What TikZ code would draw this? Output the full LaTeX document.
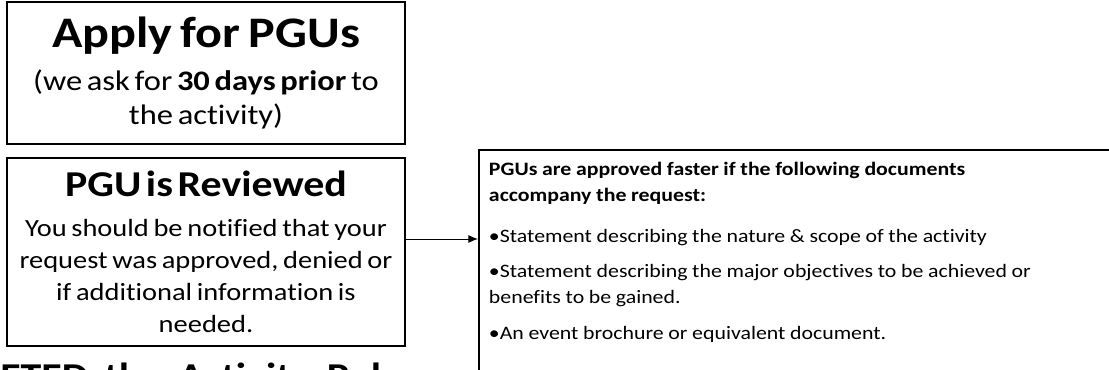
\documentclass[tikz,border=0pt]{standalone}
\usepackage{fontspec}
\setmainfont{Carlito}[Ligatures={NoCommon}, FakeStretch=1.15, WordSpace=1.7]
\usetikzlibrary{arrows.meta, positioning}

\begin{document}
\begin{tikzpicture}[
	stepbox/.style={rectangle, draw=black, line width=1.4pt, align=center,
	                text width=9.6cm, minimum width=9.95cm, inner sep=0pt},
	docbox/.style={rectangle, draw=black, line width=1.4pt, align=left, anchor=north west,
	               text width=15.45cm, inner xsep=0.25cm, inner ysep=0.3cm},
	arr/.style={-{Latex[length=2.4mm, width=2mm]}, line width=0.7pt}
	]
\useasboundingbox (0,0) rectangle (27.725,-9.25);
\clip (0,0) rectangle (27.725,-9.25);

\node[stepbox, minimum height=3.55cm] (apply) at (5.15,-1.825)
	{{\fontsize{31}{36}\selectfont\bfseries\spaceskip=0.19em\relax Apply for PGUs\par}\vspace{7pt}
	 {\fontsize{20.1}{24.2}\selectfont (we ask for \textbf{30 days prior} to\\ the activity)\par}};

\node[stepbox, minimum height=4.7cm] (review) at (5.15,-6.3)
	{{\fontsize{25.9}{30}\selectfont\bfseries PGU is Reviewed\par}\vspace{6pt}
	 {\fontsize{17.6}{22.8}\selectfont You should be notified that your\\ request was approved, denied or\\
	  if additional information is\\ needed.\par}};

\node[docbox] (docs) at (11.95,-3.725)
	{\fontsize{13.5}{18.5}\selectfont
	 \textbf{PGUs are approved faster if the following documents\\ accompany the request:}\par\vspace{11pt}
	 •Statement describing the nature \& scope of the activity\par\vspace{6pt}
	 •Statement describing the major objectives to be achieved or\\ benefits to be gained.\par\vspace{7pt}
	 •An event brochure or equivalent document.\par
	 \rule{0pt}{1.5cm}};

\draw[arr] ([yshift=0.325cm]review.east) -- ([yshift=0.325cm]review.east -| docs.west);

\node[anchor=base west, inner sep=0pt, font=\fontsize{25.9}{30}\selectfont\bfseries] (complete)
	at (0,-9.725) {ETED the Activity Pol};
\end{tikzpicture}
\end{document}
